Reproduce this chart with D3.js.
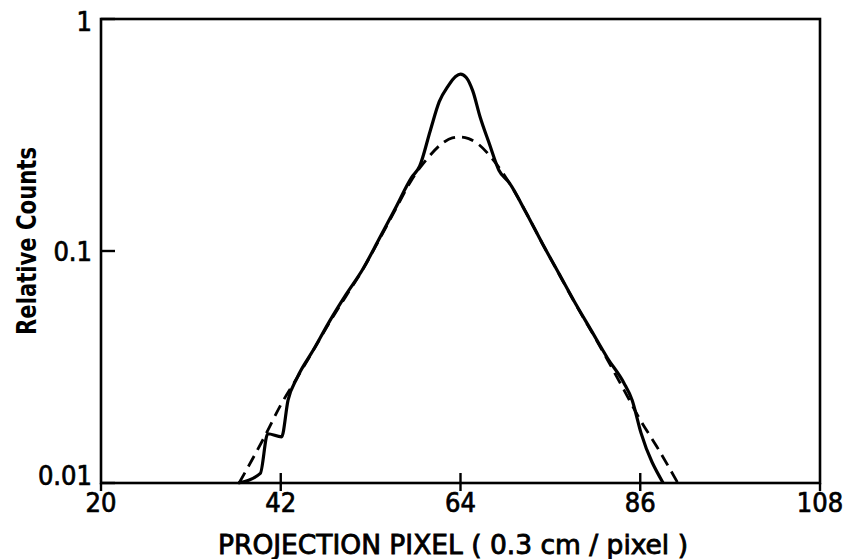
<!DOCTYPE html>
<html>
<head>
<meta charset="utf-8">
<script src="https://cdn.jsdelivr.net/npm/d3@7"></script>
<style>
  body { margin: 0; background: #fff; }
  text { font-family: "DejaVu Sans Condensed", "DejaVu Sans", sans-serif; fill: #000; }
</style>
</head>
<body>
<div class="chart"></div>
<script>
// measured profile (solid) and fitted profile (dashed)
var measuredX = [36.8, 39.5, 40.4, 42.1, 42.9, 44, 46, 48, 50, 52, 54, 56, 58, 59, 60.3, 61.4, 62.5, 63.4, 64, 64.7, 65.5, 66.4, 67.5, 68.7, 70, 72, 74, 76, 78, 80, 82, 84, 85, 86.1, 88.8]
var measuredY = [0.0100, 0.0110, 0.0163, 0.0158, 0.0228, 0.0284, 0.0375, 0.0500, 0.0650, 0.0830, 0.112, 0.152, 0.207, 0.232, 0.330, 0.440, 0.515, 0.565, 0.579, 0.560, 0.490, 0.378, 0.292, 0.223, 0.196, 0.147, 0.108, 0.0805, 0.0600, 0.0455, 0.0345, 0.0270, 0.0228, 0.0164, 0.0100]

var fitX = [36.9, 40, 42, 44, 46, 48, 50, 52, 54, 56, 58, 60, 62, 63, 64, 65, 66, 68, 70, 72, 74, 76, 78, 80, 82, 84, 86, 88, 90.6]
var fitY = [0.0100, 0.0158, 0.0217, 0.0284, 0.0374, 0.0494, 0.0640, 0.0828, 0.111, 0.150, 0.202, 0.252, 0.295, 0.307, 0.310, 0.305, 0.292, 0.247, 0.196, 0.147, 0.108, 0.0803, 0.0597, 0.0452, 0.0339, 0.0252, 0.0187, 0.0144, 0.0100]

var xTicks = [20, 42, 64, 86, 108]
var yTicks = [0.01, 0.1, 1]
var yTickLabels = ["0.01", "0.1", "1"]

function drawChart() {
  var width = 843,
    height = 559,
    left = 101,
    right = 820,
    plotTop = 19,
    bottom = 483;

  var svg = d3.select(".chart").append("svg")
    .attr("width", width)
    .attr("height", height)

  var x = d3.scaleLinear().domain([20, 108]).range([left, right])
  var y = d3.scaleLog().domain([0.01, 1]).range([bottom, plotTop])

  // frame
  svg.append("rect")
    .attr("x", left)
    .attr("y", plotTop)
    .attr("width", right - left)
    .attr("height", bottom - plotTop)
    .attr("fill", "none")
    .attr("stroke", "#000")
    .attr("stroke-width", 2.6)

  // x ticks crossing the axis
  svg.append("g").selectAll("line")
    .data(xTicks)
    .enter().append("line")
    .attr("x1", d => x(d)).attr("x2", d => x(d))
    .attr("y1", d => (d === 20 || d === 108) ? bottom : bottom - 10)
    .attr("y2", bottom + 8)
    .attr("stroke", "#000")
    .attr("stroke-width", 2.4)

  svg.append("g").selectAll("text")
    .data(xTicks)
    .enter().append("text")
    .attr("x", d => x(d))
    .attr("y", bottom + 29)
    .attr("text-anchor", "middle")
    .attr("font-size", 27)
    .attr("stroke", "#000")
    .attr("stroke-width", 0.7)
    .text(d => d)

  // y ticks (inward)
  svg.append("g").selectAll("line")
    .data(yTicks)
    .enter().append("line")
    .attr("x1", left).attr("x2", left + 14)
    .attr("y1", d => y(d)).attr("y2", d => y(d))
    .attr("stroke", "#000")
    .attr("stroke-width", 2.4)

  // lowest label sits a little above the axis line
  var shift = d => d === 0.01 ? -8 : (d === 1 ? 2 : 0)
  svg.append("g").selectAll("text")
    .data(yTicks)
    .enter().append("text")
    .attr("x", left - 9)
    .attr("y", d => y(d) + shift(d) + 10)
    .attr("text-anchor", "end")
    .attr("font-size", 27)
    .attr("stroke", "#000")
    .attr("stroke-width", 0.7)
    .text((d, i) => yTickLabels[i])

  // axis titles
  svg.append("text")
    .attr("x", 218)
    .attr("y", 554)
    .attr("font-size", 27)
    .attr("stroke", "#000")
    .attr("stroke-width", 0.8)
    .attr("textLength", 470)
    .attr("lengthAdjust", "spacingAndGlyphs")
    .text("PROJECTION PIXEL ( 0.3 cm / pixel )")

  svg.append("text")
    .attr("transform", `translate(36, 335) rotate(-90)`)
    .attr("font-size", 27)
    .attr("font-weight", "bold")
    .attr("textLength", 188)
    .attr("lengthAdjust", "spacingAndGlyphs")
    .text("Relative Counts")

  var line = d3.line()
    .x(d => x(d[0]))
    .y(d => y(d[1]))
    .curve(d3.curveMonotoneX)

  svg.append("path")
    .datum(fitX.map((v, i) => [v, fitY[i]]))
    .attr("d", line)
    .attr("fill", "none")
    .attr("stroke", "#000")
    .attr("stroke-width", 2.8)
    .attr("stroke-dasharray", "12,7")

  svg.append("path")
    .datum(measuredX.map((v, i) => [v, measuredY[i]]))
    .attr("d", line)
    .attr("fill", "none")
    .attr("stroke", "#000")
    .attr("stroke-width", 3.2)
    .attr("stroke-linejoin", "round")
}

drawChart()
</script>
</body>
</html>
